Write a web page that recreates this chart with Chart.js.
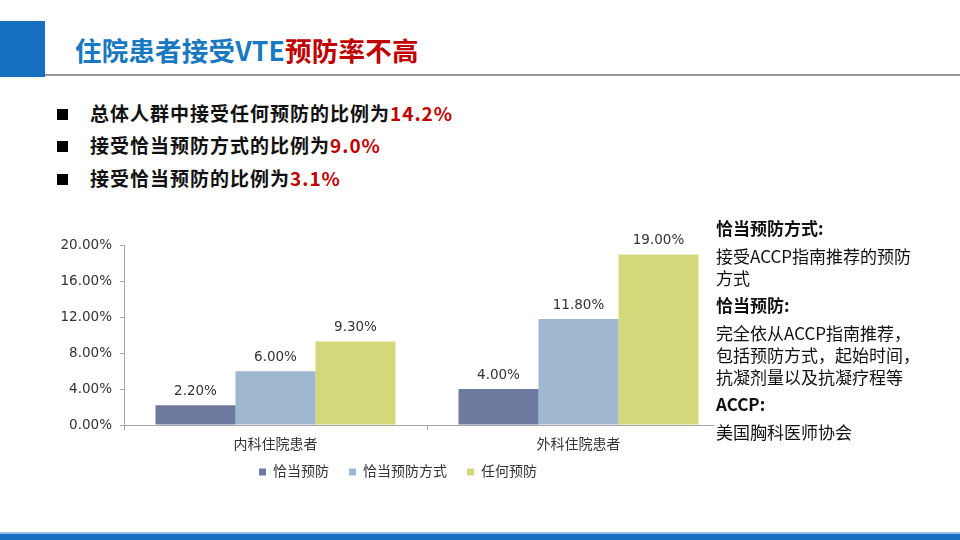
<!DOCTYPE html>
<html><head><meta charset="utf-8">
<script src="https://cdn.jsdelivr.net/npm/chart.js@4.4.0/dist/chart.umd.min.js"></script>
<style>
html,body{margin:0;padding:0;background:#fff;}
body{width:960px;height:540px;position:relative;overflow:hidden;font-family:"Noto Sans CJK SC","Noto Sans",sans-serif;}
.block{position:absolute;left:0;top:21px;width:45px;height:56px;background:#1570c2;}
.hline{position:absolute;left:45px;top:74px;width:915px;height:1.5px;background:#9a9a9a;}
.title{position:absolute;left:75px;top:32px;font-size:26.5px;font-weight:bold;line-height:36px;color:#1878c0;white-space:nowrap;letter-spacing:0.2px;}
.red{color:#c00000;}
.bullet{position:absolute;left:90px;font-size:19px;letter-spacing:1px;font-weight:bold;color:#111;line-height:24px;white-space:nowrap;}
.sq{position:absolute;left:57px;width:11px;height:11px;background:#000;}
.side{position:absolute;left:714px;top:217px;width:246px;background:#fff;font-size:17px;color:#111;line-height:22px;padding-left:2px;}
.side div{margin-bottom:5.5px;}
.side b{font-weight:bold;}
.bot1{position:absolute;left:0;top:532px;width:960px;height:2px;background:#8cc0ec;}
.bot2{position:absolute;left:0;top:534px;width:960px;height:6px;background:#1570c2;}
#wrap{position:absolute;left:0;top:200px;width:760px;height:289px;}
</style></head>
<body>
<div class="block"></div>
<div class="hline"></div>
<div class="title">住院患者接受VTE<span class="red">预防率不高</span></div>

<div class="sq" style="top:109px"></div>
<div class="bullet" style="top:101px">总体人群中接受任何预防的比例为<span class="red">14.2%</span></div>
<div class="sq" style="top:141px"></div>
<div class="bullet" style="top:133px">接受恰当预防方式的比例为<span class="red">9.0%</span></div>
<div class="sq" style="top:174px"></div>
<div class="bullet" style="top:166px">接受恰当预防的比例为<span class="red">3.1%</span></div>

<div id="wrap"><canvas id="c" width="760" height="289"></canvas></div>

<div class="side">
<div><b>恰当预防方式:</b></div>
<div>接受ACCP指南推荐的预防<br>方式</div>
<div><b>恰当预防:</b></div>
<div>完全依从ACCP指南推荐，<br>包括预防方式，起始时间，<br>抗凝剂量以及抗凝疗程等</div>
<div><b>ACCP:</b></div>
<div>美国胸科医师协会</div>
</div>

<div class="bot1"></div>
<div class="bot2"></div>

<script>
const categories = ["内科住院患者", "外科住院患者"];
const seriesNames = ["恰当预防", "恰当预防方式", "任何预防"];
const appropriate = [2.2, 4.0];
const appropriateMethod = [6.0, 11.8];
const anyProphylaxis = [9.3, 19.0];
const yTicks = [0, 4, 8, 12, 16, 20];
const colors = ["#6e799f", "#9fb7cf", "#d3d97a"];

const chartFont = '"DejaVu Sans","Noto Sans CJK SC",sans-serif';

const valueLabels = {
  id: 'valueLabels',
  afterDatasetsDraw(chart) {
    const ctx = chart.ctx;
    ctx.save();
    ctx.font = '13.5px ' + chartFont;
    ctx.fillStyle = '#333';
    ctx.textAlign = 'center';
    ctx.textBaseline = 'middle';
    chart.data.datasets.forEach((ds, i) => {
      const meta = chart.getDatasetMeta(i);
      meta.data.forEach((bar, j) => {
        ctx.fillText(ds.data[j].toFixed(2) + '%', bar.x, bar.y - 14);
      });
    });
    ctx.restore();
  }
};

const layoutTweak = {
  id: 'layoutTweak',
  afterLayout(chart) {
    if (chart.legend) { chart.legend.left += 33; chart.legend.right += 33; }
    chart.scales.x.bottom += 20;
  }
};

new Chart(document.getElementById('c'), {
  type: 'bar',
  data: {
    labels: categories,
    datasets: [
      { label: seriesNames[0], data: appropriate, backgroundColor: colors[0] },
      { label: seriesNames[1], data: appropriateMethod, backgroundColor: colors[1] },
      { label: seriesNames[2], data: anyProphylaxis, backgroundColor: colors[2] }
    ]
  },
  options: {
    responsive: false,
    animation: false,
    devicePixelRatio: 1,
    categoryPercentage: 0.792,
    barPercentage: 1,
    layout: { padding: { left: 0, right: 30, top: 45.5, bottom: 0 } },
    plugins: {
      legend: {
        position: 'bottom',
        labels: { boxWidth: 7, boxHeight: 7, padding: 20, color: '#333', font: { size: 14, family: chartFont } }
      },
      tooltip: { enabled: false }
    },
    scales: {
      x: {
        grid: { display: true, drawOnChartArea: false, tickLength: 5, color: '#a6a6a6', offset: true },
        border: { color: '#a6a6a6', width: 1 },
        ticks: { color: '#333', padding: 7, font: { size: 14, family: chartFont } },
        afterFit(s) { s.height = 20; }
      },
      y: {
        min: 0, max: 20,
        afterBuildTicks(s) { s.ticks = yTicks.map(v => ({ value: v })); },
        grid: { display: true, drawOnChartArea: false, tickLength: 4, color: '#a6a6a6' },
        border: { color: '#a6a6a6', width: 1 },
        ticks: { color: '#333', padding: 8, font: { size: 13.5, family: chartFont }, callback: v => v.toFixed(2) + '%' },
        afterFit(s) { s.width = 124; }
      }
    }
  },
  plugins: [valueLabels, layoutTweak]
});
</script>
</body></html>
